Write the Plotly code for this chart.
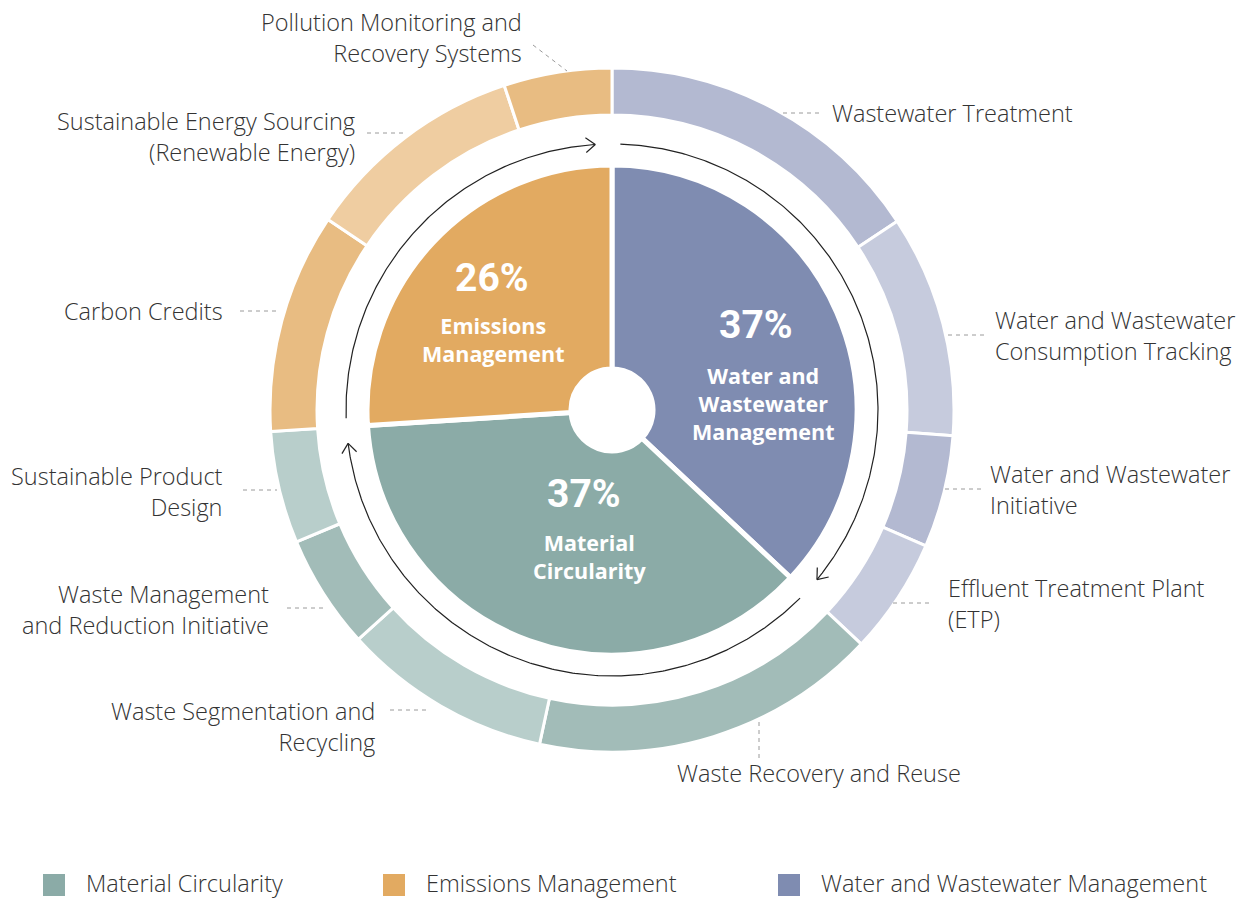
import numpy as np
import plotly.graph_objects as go

W, H = 1243, 899
CX, CY = 612, 410

# inner ring (main categories), clockwise from 12 o'clock
groups = ["Water and Wastewater Management", "Material Circularity", "Emissions Management"]
group_share = [37, 37, 26]
group_colors = ["#7F8CB1", "#8BABA7", "#E2AA61"]

# outer ring (initiatives), same order
initiatives = [
    "Wastewater Treatment", "Water and Wastewater Consumption Tracking",
    "Water and Wastewater Initiative", "Effluent Treatment Plant (ETP)",
    "Waste Recovery and Reuse", "Waste Segmentation and Recycling",
    "Waste Management and Reduction Initiative", "Sustainable Product Design",
    "Carbon Credits", "Sustainable Energy Sourcing (Renewable Energy)",
    "Pollution Monitoring and Recovery Systems",
]
initiative_share = [15.7, 10.5, 5.3, 5.5, 16.4, 9.9, 5.4, 5.3, 10.4, 10.5, 5.1]
initiative_colors = ["#B3B9D1", "#C6CBDD", "#B3B9D1", "#C6CBDD",
                     "#A2BCB8", "#B8CECB", "#A2BCB8", "#B8CECB",
                     "#E8BC82", "#EFCDA1", "#E8BC82"]

legend_order = ["Material Circularity", "Emissions Management", "Water and Wastewater Management"]


def dom(r):
    return dict(x=[(CX - r) / W, (CX + r) / W], y=[(H - CY - r) / H, (H - CY + r) / H])


fig = go.Figure()

fig.add_trace(go.Pie(values=initiative_share, labels=initiatives, sort=False,
                     direction="clockwise", rotation=0, hole=295 / 342,
                     domain=dom(342), textinfo="none", hoverinfo="label",
                     marker=dict(colors=initiative_colors, line=dict(color="white", width=3)),
                     showlegend=False))

fig.add_trace(go.Pie(values=group_share, labels=groups, sort=False,
                     direction="clockwise", rotation=0, hole=41 / 245,
                     domain=dom(245), textinfo="none", hoverinfo="label+percent",
                     marker=dict(colors=group_colors, line=dict(color="white", width=5)),
                     showlegend=False))

# arrows around the inner ring, one per category
R = 266
tot = sum(group_share)
start = 0.0
for v in group_share:
    end = start + v / tot * 360
    th = np.radians(np.arange(start + 1.8, end - 3.6, 0.5))
    th = np.append(th, np.radians(end - 3.6))
    xs = CX + R * np.sin(th)
    ys = CY - R * np.cos(th)
    fig.add_trace(go.Scatter(x=xs, y=ys, mode="lines", line=dict(color="#222", width=1.2),
                             hoverinfo="skip", showlegend=False))
    t = th[-1]
    tx, ty = np.cos(t), np.sin(t)
    hx, hy = [], []
    for a in (np.radians(38), -np.radians(38)):
        bx = -tx * np.cos(a) + ty * np.sin(a)
        by = -ty * np.cos(a) - tx * np.sin(a)
        hx += [xs[-1] + 12 * bx, xs[-1], None]
        hy += [ys[-1] + 12 * by, ys[-1], None]
    fig.add_trace(go.Scatter(x=hx, y=hy, mode="lines", line=dict(color="#222", width=1.2),
                             hoverinfo="skip", showlegend=False))
    start = end

# outer labels: text, x, y (middle), anchor, leader line
outer_labels = [
    ("Wastewater Treatment", 831, 113, "left", (783, 113, 822, 113)),
    ("Water and Wastewater<br>Consumption Tracking", 994, 335, "left", (948, 335, 985, 335)),
    ("Water and Wastewater<br>Initiative", 989, 489, "left", (945, 489, 981, 489)),
    ("Effluent Treatment Plant<br>(ETP)", 947, 603, "left", (893, 603, 932, 603)),
    ("Waste Recovery and Reuse", 676, 773, "left", (759, 722, 759, 760)),
    ("Waste Segmentation and<br>Recycling", 376, 726, "right", (390, 710, 428, 710)),
    ("Waste Management<br>and Reduction Initiative", 270, 609, "right", (287, 608, 323, 608)),
    ("Sustainable Product<br>Design", 224, 491, "right", (243, 490, 277, 490)),
    ("Carbon Credits", 224, 311, "right", (240, 311, 277, 311)),
    ("Sustainable Energy Sourcing<br>(Renewable Energy)", 356, 136, "right", (367, 133, 403, 133)),
    ("Pollution Monitoring and<br>Recovery Systems", 523, 37, "right", (533, 45, 567, 71)),
]

font_fam = "'Open Sans', Roboto, 'Liberation Sans', Arial, sans-serif"
bold_fam = "Roboto, 'Liberation Sans', Arial, sans-serif"
annotations = []
shapes = []
for txt, x, y, anc, ld in outer_labels:
    annotations.append(dict(x=x, y=y, xref="x", yref="y", text=txt, showarrow=False,
                            xanchor=anc, yanchor="middle", align=anc, borderpad=0,
                            font=dict(family=font_fam, size=23.5, color="#333", weight=300)))
    shapes.append(dict(type="line", x0=ld[0], y0=ld[1], x1=ld[2], y1=ld[3], xref="x", yref="y",
                       line=dict(color="#9a9a9a", width=1, dash="4px,4px")))

# inner labels
inner_text = {
    "Water and Wastewater Management": ("Water and<br>Wastewater<br>Management", 756, 325, 763, 403),
    "Material Circularity": ("Material<br>Circularity", 584, 494, 589, 556),
    "Emissions Management": ("Emissions<br>Management", 492, 278, 493, 339),
}
for g, s in zip(groups, group_share):
    name, px, py, nx, ny = inner_text[g]
    annotations.append(dict(x=px, y=py, xref="x", yref="y", text=f"<b>{s}%</b>", showarrow=False,
                            font=dict(family=bold_fam, size=39, color="white")))
    annotations.append(dict(x=nx, y=ny, xref="x", yref="y", text=f"<b>{name}</b>", showarrow=False,
                            font=dict(family="'Open Sans', Roboto, sans-serif", size=21.5,
                                      color="white")))

# legend
legend_x = [43, 383, 778]
for name, lx in zip(legend_order, legend_x):
    col = group_colors[groups.index(name)]
    shapes.append(dict(type="rect", x0=lx, x1=lx + 22, y0=874, y1=896, xref="x", yref="y",
                       fillcolor=col, line=dict(width=0)))
    annotations.append(dict(x=lx + 42, y=883, xref="x", yref="y", text=name, showarrow=False,
                            xanchor="left", yanchor="middle", borderpad=0,
                            font=dict(family=font_fam, size=23.5, color="#333", weight=300)))

fig.update_layout(
    width=W, height=H, margin=dict(l=0, r=0, t=0, b=0),
    paper_bgcolor="white", plot_bgcolor="white",
    xaxis=dict(range=[0, W], visible=False, fixedrange=True),
    yaxis=dict(range=[H, 0], visible=False, fixedrange=True),
    annotations=annotations, shapes=shapes, showlegend=False,
)

fig.write_html("out.html", config={"displayModeBar": False},
               post_script="document.body.style.margin='0';")
